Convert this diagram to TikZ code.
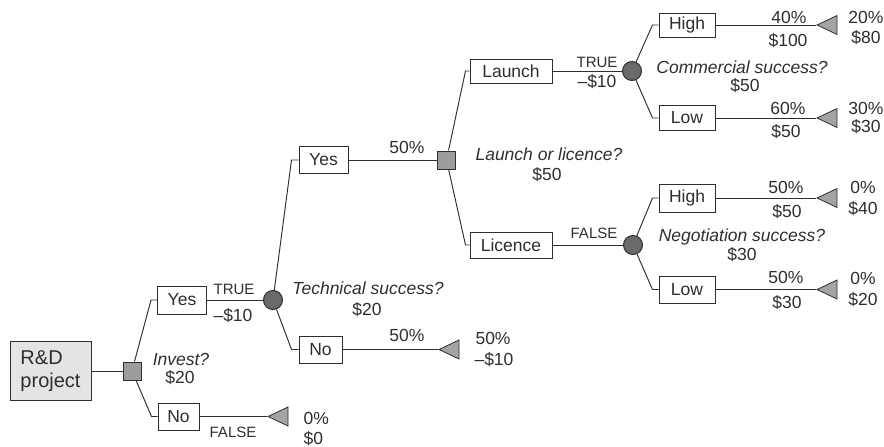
\documentclass[tikz,border=0pt]{standalone}
\usepackage{fontspec}
\setmainfont{Liberation Sans}
\usetikzlibrary{shapes.geometric}
\definecolor{ink}{HTML}{2E2E2E}
\definecolor{boxgray}{HTML}{E4E4E4}
\definecolor{sqgray}{HTML}{9C9C9C}
\definecolor{cgray}{HTML}{6A6A6A}
\definecolor{tgray}{HTML}{A4A4A4}
\begin{document}
\begin{tikzpicture}[x=1pt,y=-1pt,
  every node/.style={font=\fontsize{17.5}{19}\selectfont, text=ink},
  opt/.style={draw=ink, line width=1pt, fill=white, inner sep=0pt},
  dec/.style={draw=ink, line width=1pt, fill=sqgray, minimum size=18, inner sep=0pt},
  chance/.style={circle, draw=ink, line width=1pt, fill=cgray, minimum size=19, inner sep=0pt},
  term/.style={isosceles triangle, isosceles triangle stretches, shape border rotate=180,
    draw=ink, fill=tgray, line width=0.8pt, minimum width=19, minimum height=20, inner sep=0pt, anchor=apex},
  link/.style={draw=ink, line width=0.95pt},
  small/.style={font=\fontsize{15}{17}\selectfont},
  q/.style={font=\fontsize{17.5}{19}\selectfont\itshape},
]
\useasboundingbox (0,0) rectangle (884,447);

% nodes
\node[opt, fill=boxgray, minimum width=81, minimum height=59, align=left, font=\fontsize{20}{23}\selectfont] (rd) at (50.5,371) {R\&D\\project};
\node[dec] (sq1) at (132,371) {};
\node[opt, minimum width=49, minimum height=28] (yes1) at (182,300) {Yes};
\node[opt, minimum width=41, minimum height=27] (no1) at (178.5,416.5) {No};
\node[chance] (c1) at (273,300) {};
\node[term] (t1) at (267,416.5) {};

\node[opt, minimum width=49, minimum height=27] (yes2) at (323.5,160) {Yes};
\node[opt, minimum width=43, minimum height=27] (no2) at (320.5,349.5) {No};
\node[dec] (sq2) at (446.5,160) {};
\node[term] (t2) at (438,349.5) {};

\node[opt, minimum width=82, minimum height=24] (launch) at (511,71) {Launch};
\node[opt, minimum width=82, minimum height=26] (licence) at (511,245) {Licence};
\node[chance] (c2) at (632,71) {};
\node[chance] (c3) at (633,245) {};

\node[opt, minimum width=56, minimum height=24] (high1) at (687,25) {High};
\node[opt, minimum width=56, minimum height=25] (low1) at (687,118) {Low};
\node[opt, minimum width=56, minimum height=28] (high2) at (687,198) {High};
\node[opt, minimum width=56, minimum height=27] (low2) at (687,289.5) {Low};
\node[term] (tA) at (816,25) {};
\node[term] (tB) at (816,118) {};
\node[term] (tC) at (816,198) {};
\node[term] (tD) at (816,289.5) {};

% connectors
\draw[link] (rd) -- (sq1);
\draw[link] (sq1) -- ([xshift=-6pt]yes1.west) -- (yes1.west);
\draw[link] (sq1) -- ([xshift=-6pt]no1.west) -- (no1.west);
\draw[link] (yes1) -- (c1);
\draw[link] (no1) -- (t1);
\draw[link] (c1) -- ([xshift=-7pt]yes2.west) -- (yes2.west);
\draw[link] (c1) -- ([xshift=-7pt]no2.west) -- (no2.west);
\draw[link] (yes2) -- (sq2);
\draw[link] (no2) -- (t2);
\draw[link] (sq2) -- ([xshift=-4pt]launch.west) -- (launch.west);
\draw[link] (sq2) -- ([xshift=-4pt]licence.west) -- (licence.west);
\draw[link] (launch) -- (c2);
\draw[link] (licence) -- (c3);
\draw[link] (c2) -- ([xshift=-6pt]high1.west) -- (high1.west);
\draw[link] (c2) -- ([xshift=-6pt]low1.west) -- (low1.west);
\draw[link] (c3) -- ([xshift=-6pt]high2.west) -- (high2.west);
\draw[link] (c3) -- ([xshift=-6pt]low2.west) -- (low2.west);
\draw[link] (high1) -- (tA);
\draw[link] (low1) -- (tB);
\draw[link] (high2) -- (tC);
\draw[link] (low2) -- (tD);

% labels
\node[small] (l1) at (234,289) {TRUE};
\node (l2) at (233,316) {–\$10};
\node[q] (l3) at (181,359) {Invest?};
\node (l4) at (180,378) {\$20};
\node[small] (l5) at (233,432) {FALSE};
\node[anchor=west] (l6) at (300,418) {0\%};
\node[anchor=west] (l7) at (300,439) {\$0};

\node[q] (l8) at (368,288) {Technical success?};
\node (l9) at (367,310) {\$20};
\node (l10) at (407,147) {50\%};
\node (l11) at (407,335) {50\%};
\node[anchor=west] (l12) at (472,338) {50\%};
\node[anchor=west] (l13) at (471,360) {–\$10};
\node[q] (l14) at (549,154) {Launch or licence?};
\node (l15) at (547,175) {\$50};

\node[small] (l16) at (597,62) {TRUE};
\node (l17) at (597,82) {–\$10};
\node[small] (l18) at (594,233) {FALSE};
\node[q] (l19) at (742,67) {Commercial success?};
\node (l20) at (745,86) {\$50};
\node[q] (l21) at (742,237) {Negotiation success?};
\node (l22) at (742,255) {\$30};

\node (l23) at (789,17) {40\%};
\node (l24) at (788,41) {\$100};
\node (l25) at (866,17) {20\%};
\node (l26) at (866,38) {\$80};
\node (l27) at (788,108) {60\%};
\node (l28) at (786,132) {\$50};
\node (l29) at (866,108) {30\%};
\node (l30) at (866,127) {\$30};
\node (l31) at (786,187) {50\%};
\node (l32) at (787,212) {\$50};
\node (l33) at (863,187) {0\%};
\node (l34) at (863,209) {\$40};
\node (l35) at (786,277) {50\%};
\node (l36) at (787,303) {\$30};
\node (l37) at (863,278) {0\%};
\node (l38) at (863,300) {\$20};
\end{tikzpicture}
\end{document}
